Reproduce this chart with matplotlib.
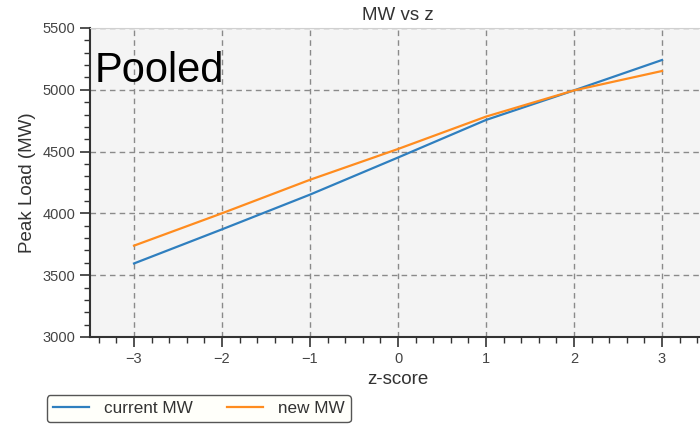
import numpy as np
import matplotlib.pyplot as plt
from matplotlib.ticker import MultipleLocator

plt.rcParams['font.family'] = ['Liberation Sans', 'DejaVu Sans']

# z-score grid and peak load for each scenario
z = [-3, -2, -1, 0, 1, 2, 3]
current_mw = [3595, 3871, 4152, 4452, 4756, 4995, 5241]
new_mw = [3739, 4001, 4272, 4521, 4783, 4995, 5152]


def main():
    fig = plt.figure(figsize=(7, 4.24), dpi=100)
    ax = fig.add_axes([0.1286, 0.2052, 0.88, 0.7288])
    ax.set_facecolor('#f4f4f4')

    l1, = ax.plot(z, current_mw, color='#2f7fbf', lw=1.6, label='current MW')
    l2, = ax.plot(z, new_mw, color='#ff8c1f', lw=1.6, label='new MW')

    ax.set_xlim(-3.5, 3.5)
    ax.set_ylim(3000, 5500)
    ax.xaxis.set_major_locator(MultipleLocator(1))
    ax.xaxis.set_minor_locator(MultipleLocator(0.2))
    ax.yaxis.set_major_locator(MultipleLocator(500))
    ax.yaxis.set_minor_locator(MultipleLocator(100))

    # グリッド
    ax.grid(True, which='major', linestyle=(0, (4, 3)), color='#8a8a8a', lw=1.0)
    ax.tick_params(which='major', length=7, width=1.2, color='#333333',
                   labelsize=10.5, labelcolor='#444444')
    ax.tick_params(which='minor', length=4, width=1.0, color='#333333')

    for s in ['left', 'bottom']:
        ax.spines[s].set_color('#333333')
        ax.spines[s].set_linewidth(1.5)
    for s in ['top', 'right']:
        ax.spines[s].set_color('#d0d0d0')

    ax.set_title('MW vs z', fontsize=13.5, color='#333333', pad=6)
    ax.set_xlabel('z-score', fontsize=13.5, color='#333333', labelpad=4)
    ax.set_ylabel('Peak Load (MW)', fontsize=13.5, color='#333333', labelpad=5)

    ax.text(0.007, 0.925, 'Pooled', transform=ax.transAxes, fontsize=30,
            color='black', va='top', ha='left')

    fig.legend(handles=[l1, l2], loc='lower left', ncol=2,
               bbox_to_anchor=(0.062, -0.004), fontsize=12.3,
               frameon=True, fancybox=True, edgecolor='#555555',
               facecolor='#fffffa', framealpha=1, handlelength=2.1,
               handletextpad=0.9, borderpad=0.35, borderaxespad=0.2,
               columnspacing=2.0, labelcolor='#333333')

    fig.savefig('out.png', dpi=100)


if __name__ == "__main__":
    main()
